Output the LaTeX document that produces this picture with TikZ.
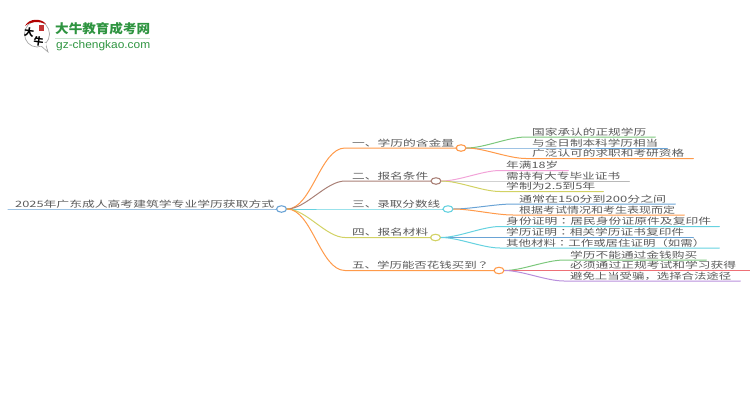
\documentclass[tikz,border=0pt]{standalone}
\usepackage{fontspec}
\usepackage{graphicx}
\setmainfont{Noto Sans CJK SC}
\newfontfamily\tcf{Noto Sans CJK TC}
\usetikzlibrary{shapes.geometric}
\definecolor{cOrange}{HTML}{FF9A4A}
\definecolor{cBrown}{HTML}{A98076}
\definecolor{cCyan}{HTML}{66D2E0}
\definecolor{cYellow}{HTML}{D2D264}
\definecolor{cGreen}{HTML}{7CC87C}
\definecolor{cBlue}{HTML}{6AA3D5}
\definecolor{cPink}{HTML}{F2A3D8}
\definecolor{cGray}{HTML}{B8B8B8}
\definecolor{cRed}{HTML}{EE7076}
\definecolor{cPurple}{HTML}{B88FDC}
\definecolor{cText}{HTML}{5A5A5A}
\definecolor{cLogo}{HTML}{2E9440}
% left gap, text width, right gap, text
\newcommand{\lbl}[4]{\mbox{\hspace*{#1pt}\resizebox{#2pt}{7.4pt}{#4}\hspace*{#3pt}}}
\tikzset{
  lab/.style={anchor=south west,inner xsep=0pt,inner ysep=0.8pt,text=cText,font=\fontsize{10}{10}\selectfont},
  hub/.style={ellipse,draw=#1,fill=white,line width=1.1pt,inner sep=0pt,minimum width=10pt,minimum height=6.5pt},
  wire/.style={draw=#1,line width=1pt,line cap=round},
  link/.style={out=0,in=180,looseness=0.75}
}
\begin{document}
\begin{tikzpicture}[x=1pt,y=-1pt]
\useasboundingbox (0,0) rectangle (750,410);
% logo
\fill[white,draw=black!35,line width=0.7pt] (37,34) ellipse (12.5 and 13)
  (41,46) -- (48,52) -- (45,42);
\fill[white] (36,43) rectangle (46,46);
\fill[red!70!black] (25,26) .. controls (29,18) and (41,18) .. (46,24) .. controls (39,21) and (31,21) .. (25,26) -- cycle;
\fill[red!70!black!80] (38.5,24.5) rectangle (44,31);
\node[name=logoA,inner sep=0pt,rotate=-8,font=\fontsize{10}{10}\selectfont\bfseries] at (29,32.5) {大};
\node[name=logoB,inner sep=0pt,rotate=-8,font=\fontsize{10}{10}\selectfont\bfseries] at (38.5,41) {牛};
\node[name=logoT,anchor=west,inner sep=0pt,text=cLogo] at (55,29) {\resizebox{95pt}{11pt}{\bfseries 大牛教育成考网}};
\node[name=logoU,anchor=west,inner sep=0pt,text=cLogo] at (56,45.5) {\resizebox{94pt}{8pt}{\setmainfont{Liberation Sans}gz-chengkao.com}};
\draw[cLogo!25,line width=0.8pt] (55,38) -- (150,38);
% root
\node[lab] (title) at (8,209) {\lbl{7}{259}{2}{2025年广东成人高考建筑学专业学历获取方式}};
\node[hub=cBlue] (root) at (281.5,209) {};
\draw[wire=cBlue] (title.south west) -- (title.south east) -- (root.west);
% main branches
\node[lab] (b1) at (345,148) {\lbl{7}{102}{3}{一、学历的含金量}};
\node[hub=cOrange] (h1) at (461,148) {};
\node[lab] (b2) at (345,181) {\lbl{7}{76}{3}{二、报名条件}};
\node[hub=cBrown] (h2) at (436,181) {};
\node[lab] (b3) at (345,209) {\lbl{7}{88}{3}{三、录取分数线}};
\node[hub=cCyan] (h3) at (448,209) {};
\node[lab] (b4) at (345,237.5) {\lbl{7}{76}{3}{四、报名材料}};
\node[hub=cYellow] (h4) at (435.5,237.5) {};
\node[lab] (b5) at (345,270.5) {\lbl{7}{137}{5}{五、学历能否花钱买到{\tcf ？}}};
\node[hub=cOrange] (h5) at (499,270.5) {};
\draw[wire=cOrange] (root.east) to[link] (b1.south west) -- (b1.south east) -- (h1.west);
\draw[wire=cBrown] (root.east) to[link] (b2.south west) -- (b2.south east) -- (h2.west);
\draw[wire=cCyan] (root.east) -- (b3.south west) -- (b3.south east) -- (h3.west);
\draw[wire=cYellow] (root.east) to[link] (b4.south west) -- (b4.south east) -- (h4.west);
\draw[wire=cOrange] (root.east) to[link] (b5.south west) -- (b5.south east) -- (h5.west);
% leaves 1
\node[lab] (a1) at (526,137) {\lbl{6}{114}{9}{国家承认的正规学历}};
\node[lab] (a2) at (526,148) {\lbl{6}{126}{9}{与全日制本科学历相当}};
\node[lab] (a3) at (526,158.5) {\lbl{6}{152}{9}{广泛认可的求职和考研资格}};
\draw[wire=cGreen] (h1.east) to[link] (a1.south west) -- (a1.south east);
\draw[wire=cBlue] (h1.east) -- (a2.south west) -- (a2.south east);
\draw[wire=cOrange] (h1.east) to[link] (a3.south west) -- (a3.south east);
% leaves 2
\node[lab] (c1) at (500,170.5) {\lbl{6}{52}{10}{年满18岁}};
\node[lab] (c2) at (500,181) {\lbl{6}{114}{9}{需持有大专毕业证书}};
\node[lab] (c3) at (500,191.5) {\lbl{6}{89}{8}{学制为2.5到5年}};
\draw[wire=cPink] (h2.east) to[link] (c1.south west) -- (c1.south east);
\draw[wire=cGray] (h2.east) -- (c2.south west) -- (c2.south east);
\draw[wire=cYellow] (h2.east) to[link] (c3.south west) -- (c3.south east);
% leaves 3
\node[lab] (d1) at (513,204) {\lbl{6}{147}{9}{通常在150分到200分之间}};
\node[lab] (d2) at (513,215) {\lbl{6}{156}{9}{根据考试情况和考生表现而定}};
\draw[wire=cBlue] (h3.east) to[link] (d1.south west) -- (d1.south east);
\draw[wire=cOrange] (h3.east) to[link] (d2.south west) -- (d2.south east);
% leaves 4
\node[lab] (e1) at (500,226.5) {\lbl{6}{205}{8}{身份证明{\tcf ：}居民身份证原件及复印件}};
\node[lab] (e2) at (500,237.5) {\lbl{6}{178}{9}{学历证明{\tcf ：}相关学历证书复印件}};
\node[lab] (e3) at (500,248) {\lbl{6}{199}{14}{其他材料{\tcf ：}工作或居住证明（如需）}};
\draw[wire=cCyan] (h4.east) to[link] (e1.south west) -- (e1.south east);
\draw[wire=cBlue] (h4.east) -- (e2.south west) -- (e2.south east);
\draw[wire=cCyan] (h4.east) to[link] (e3.south west) -- (e3.south east);
% leaves 5
\node[lab] (f1) at (564,260) {\lbl{6}{127}{9}{学历不能通过金钱购买}};
\node[lab] (f2) at (564,270.5) {\lbl{6}{166}{14}{必须通过正规考试和学习获得}};
\node[lab] (f3) at (564,281) {\lbl{6}{161}{9}{避免上当受骗，选择合法途径}};
\draw[wire=cGreen] (h5.east) to[link] (f1.south west) -- (f1.south east);
\draw[wire=cRed] (h5.east) -- (f2.south west) -- (f2.south east);
\draw[wire=cPurple] (h5.east) to[link] (f3.south west) -- (f3.south east);
\end{tikzpicture}
\end{document}
